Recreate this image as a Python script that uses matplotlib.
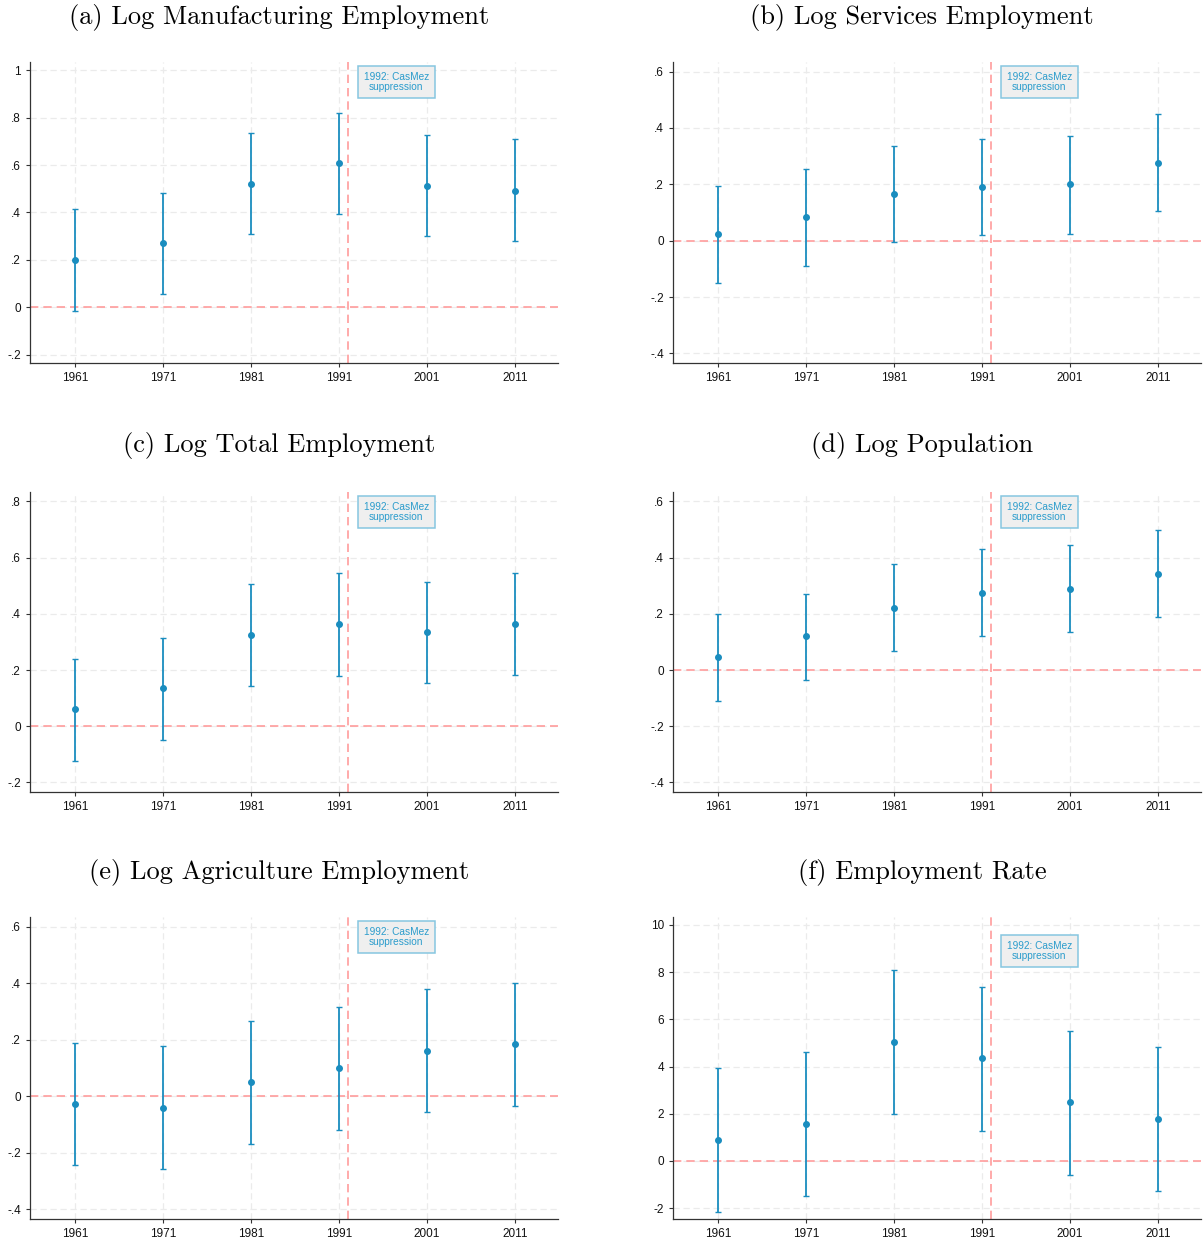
import matplotlib.pyplot as plt
from matplotlib.ticker import FuncFormatter
import numpy as np

years = [1961, 1971, 1981, 1991, 2001, 2011]

titles = ["(a) Log Manufacturing Employment", "(b) Log Services Employment",
          "(c) Log Total Employment", "(d) Log Population",
          "(e) Log Agriculture Employment", "(f) Employment Rate"]

manuf = [0.20, 0.27, 0.52, 0.61, 0.51, 0.49]
manuf_lo = [-0.015, 0.055, 0.31, 0.395, 0.30, 0.28]
manuf_hi = [0.415, 0.48, 0.735, 0.82, 0.725, 0.71]

serv = [0.025, 0.085, 0.165, 0.19, 0.20, 0.275]
serv_lo = [-0.15, -0.09, -0.005, 0.02, 0.025, 0.105]
serv_hi = [0.195, 0.255, 0.335, 0.36, 0.37, 0.45]

total = [0.06, 0.135, 0.325, 0.365, 0.335, 0.365]
total_lo = [-0.125, -0.048, 0.142, 0.18, 0.153, 0.183]
total_hi = [0.24, 0.315, 0.505, 0.545, 0.515, 0.545]

pop = [0.045, 0.12, 0.222, 0.275, 0.29, 0.342]
pop_lo = [-0.11, -0.035, 0.068, 0.12, 0.135, 0.188]
pop_hi = [0.20, 0.272, 0.378, 0.43, 0.445, 0.497]

agri = [-0.028, -0.04, 0.05, 0.10, 0.16, 0.185]
agri_lo = [-0.245, -0.258, -0.168, -0.12, -0.057, -0.033]
agri_hi = [0.188, 0.177, 0.267, 0.317, 0.378, 0.402]

emprate = [0.9, 1.58, 5.02, 4.35, 2.48, 1.78]
emprate_lo = [-2.15, -1.47, 1.98, 1.28, -0.58, -1.28]
emprate_hi = [3.93, 4.62, 8.08, 7.38, 5.50, 4.82]

yticks = [[-0.2, 0, 0.2, 0.4, 0.6, 0.8, 1.0],
          [-0.4, -0.2, 0, 0.2, 0.4, 0.6],
          [-0.2, 0, 0.2, 0.4, 0.6, 0.8],
          [-0.4, -0.2, 0, 0.2, 0.4, 0.6],
          [-0.4, -0.2, 0, 0.2, 0.4, 0.6],
          [-2, 0, 2, 4, 6, 8, 10]]

series = [(manuf, manuf_lo, manuf_hi), (serv, serv_lo, serv_hi),
          (total, total_lo, total_hi), (pop, pop_lo, pop_hi),
          (agri, agri_lo, agri_hi), (emprate, emprate_lo, emprate_hi)]

event_year = 1992
event_text = "1992: CasMez\nsuppression"

blue = "#1a8dbf"
red = "#ff9c9c"


def stata_fmt(v, pos):
    if abs(v) < 1e-9:
        return "0"
    if abs(v - round(v)) < 1e-9:
        return "%d" % round(v)
    s = ("%g" % v)
    return s.replace("0.", ".")


fig = plt.figure(figsize=(12.04, 12.47), dpi=100)

lefts = [0.0249, 0.559]
bottoms = [0.7089, 0.3649, 0.0225]
heights = [0.2414, 0.2406, 0.2422]
title_y = [0.986, 0.643, 0.3]
title_x = [0.232, 0.766]

for i, (vals, lo, hi) in enumerate(series):
    r, c = divmod(i, 2)
    ax = fig.add_axes([lefts[c], bottoms[r], 0.4385, heights[r]])
    vals = np.array(vals)
    err = [vals - np.array(lo), np.array(hi) - vals]

    ticks = yticks[i]
    step = ticks[1] - ticks[0]
    pad_lo = 0.23 if i == 5 else 0.17
    ax.set_ylim(ticks[0] - pad_lo * step, ticks[-1] + 0.17 * step)
    ax.set_xlim(1955.9, 2015.9)

    ax.axhline(0, color=red, ls=(0, (5, 3)), lw=1.2, zorder=2)
    ax.axvline(event_year, color=red, ls=(0, (5, 3)), lw=1.2, zorder=2)

    ax.errorbar(years, vals, yerr=err, fmt="o", color=blue, ms=4,
                elinewidth=1.3, capsize=2, capthick=1, zorder=3)

    ax.set_xticks(years)
    ax.set_yticks(ticks)
    ax.yaxis.set_major_formatter(FuncFormatter(stata_fmt))
    ax.grid(True, color="#ebebeb", ls=(0, (5, 3)), lw=0.9, zorder=0)
    ax.set_axisbelow(True)
    for s in ["top", "right"]:
        ax.spines[s].set_visible(False)
    for s in ["left", "bottom"]:
        ax.spines[s].set_color("#333333")
        ax.spines[s].set_linewidth(0.9)
    ax.tick_params(labelsize=8.5, length=3, color="#333333", width=0.8,
                   labelcolor="#111111")

    box_y = 0.934 if i < 5 else 0.887
    ax.text(0.694, box_y, event_text, transform=ax.transAxes, ha="center",
            va="center", fontsize=7.3, color="#2b9ccc", linespacing=0.95,
            family="Liberation Sans",
            bbox=dict(boxstyle="square,pad=0.6", fc="#efefef",
                      ec="#86c6e0", lw=1.1))

    fig.text(title_x[c], title_y[r], titles[i], ha="center", va="center",
             fontsize=19, family="cmr10")

for ax in fig.axes:
    for lab in ax.get_xticklabels() + ax.get_yticklabels():
        lab.set_family("Liberation Sans")

fig.savefig("out.png", dpi=100)
